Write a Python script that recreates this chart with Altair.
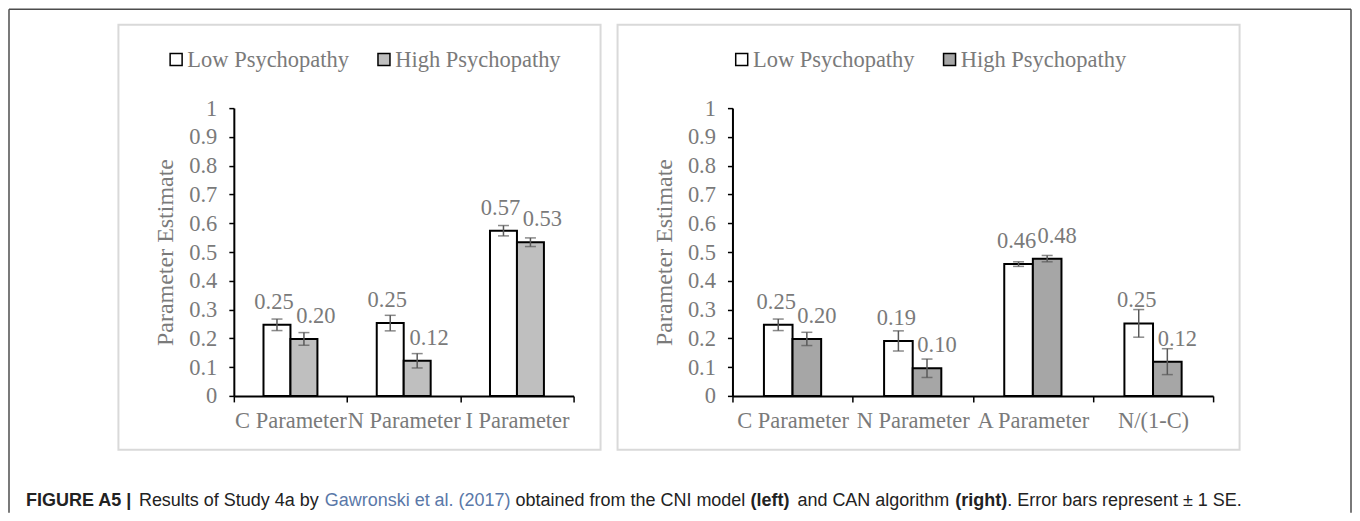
import altair as alt
import pandas as pd

# ---------------- data ----------------
SERIES = ["Low Psychopathy", "High Psychopathy"]

LEFT_CATS = ["C Parameter", "N Parameter", "I Parameter"]
LEFT_LOW = [0.247, 0.253, 0.574]
LEFT_HIGH = [0.198, 0.122, 0.534]
LEFT_LOW_SE = [0.020, 0.027, 0.018]
LEFT_HIGH_SE = [0.022, 0.025, 0.015]

RIGHT_CATS = ["C Parameter", "N Parameter", "A Parameter", "N/(1-C)"]
RIGHT_LOW = [0.247, 0.191, 0.458, 0.252]
RIGHT_HIGH = [0.198, 0.096, 0.477, 0.119]
RIGHT_LOW_SE = [0.020, 0.035, 0.008, 0.048]
RIGHT_HIGH_SE = [0.023, 0.032, 0.011, 0.045]

Y_TICKS = [0, 0.1, 0.2, 0.3, 0.4, 0.5, 0.6, 0.7, 0.8, 0.9, 1]
Y_TITLE = "Parameter Estimate"

CAPTION = [
    ("FIGURE A5 |", "bold", "#222222"),
    ("Results of Study 4a by", "normal", "#222222"),
    ("Gawronski et al. (2017)", "normal", "#5a78a8"),
    ("obtained from the CNI model", "normal", "#222222"),
    ("(left)", "bold", "#222222"),
    ("and CAN algorithm", "normal", "#222222"),
    ("(right)", "bold", "#222222"),
    (". Error bars represent \u00b1 1 SE.", "normal", "#222222"),
]
CAPTION_X = [-208, -95, 91, 282, 517, 564, 722, 774]

SERIF = "Liberation Serif"
SANS = "Liberation Sans"
GRAY = "#7a7a7a"
ERR = "#595959"
BOX = "#d9d9d9"
FRAME = "#4d4d4d"
H = 288
FS = 22.5


def make_df(cats, low, high, low_se, high_se):
    rows = []
    for c, v, s in zip(cats, low, low_se):
        rows.append({"cat": c, "series": SERIES[0], "value": v, "se": s})
    for c, v, s in zip(cats, high, high_se):
        rows.append({"cat": c, "series": SERIES[1], "value": v, "se": s})
    return pd.DataFrame(rows)


one = pd.DataFrame({"k": [0]})


def panel(cats, df, high_color, width, legend_x, box_x, box_x2, dx_low, dx_high, extra=()):
    band = width / len(cats)
    bar_w = band / 4.2
    x_enc = alt.X(
        "cat:N", sort=cats, title=None,
        scale=alt.Scale(paddingInner=0, paddingOuter=0),
        axis=alt.Axis(labelAngle=0, labelFont=SERIF, labelFontSize=FS, labelColor=GRAY,
                      domainColor="black", domainWidth=2, tickColor="black", tickWidth=1.5,
                      tickSize=6, tickBand="extent", labelPadding=8, labelOverlap=False,
                      labelLimit=400),
    )
    xo_enc = alt.XOffset("series:N", sort=SERIES,
                         scale=alt.Scale(domain=SERIES, paddingInner=0, paddingOuter=0,
                                         range=[band / 2 - bar_w, band / 2 + bar_w]))
    y_axis = alt.Axis(values=Y_TICKS, format="~g", grid=False, labelFont=SERIF,
                      labelFontSize=FS, labelColor=GRAY, labelPadding=12, labelFlush=False,
                      domainColor="black", domainWidth=2, tickColor="black", tickWidth=1.5,
                      tickSize=5, title=Y_TITLE, titleFont=SERIF, titleFontSize=24,
                      titleFontWeight="normal", titleColor=GRAY, titleX=-68, titleY=H / 2,
                      titleAngle=270, titleAlign="center", titleBaseline="middle")

    def Y(field):
        return alt.Y(field, title=Y_TITLE, scale=alt.Scale(domain=[0, 1], nice=False), axis=y_axis)

    base = alt.Chart(df).transform_calculate(
        lo="datum.value - datum.se", hi="datum.value + datum.se"
    ).encode(x=x_enc, xOffset=xo_enc)

    bars = base.mark_bar(stroke="black", strokeWidth=2).encode(
        y=Y("value:Q"),
        fill=alt.Fill("series:N",
                      scale=alt.Scale(domain=SERIES, range=["white", high_color]),
                      legend=alt.Legend(orient="none", legendX=legend_x, legendY=-60,
                                        direction="horizontal", title=None,
                                        symbolType="square", symbolSize=144,
                                        symbolStrokeColor="black", symbolStrokeWidth=1.5,
                                        labelFont=SERIF, labelFontSize=FS, labelColor=GRAY,
                                        labelOffset=0, columnPadding=23, padding=0,
                                        labelLimit=400)),
    )
    rule = base.mark_rule(color=ERR, strokeWidth=1.5).encode(y=Y("lo:Q"), y2="hi:Q")
    cap_lo = base.mark_tick(color=ERR, thickness=1.5, size=11).encode(y=Y("lo:Q"))
    cap_hi = base.mark_tick(color=ERR, thickness=1.5, size=11).encode(y=Y("hi:Q"))

    labels = []
    for s, dx in zip(SERIES, [dx_low, dx_high]):
        labels.append(
            base.transform_filter(alt.datum.series == s)
            .mark_text(font=SERIF, fontSize=FS, color=GRAY, baseline="alphabetic",
                       align="center", dy=-16, dx=dx)
            .encode(y=Y("value:Q"), text=alt.Text("value:Q", format=".2f"))
        )

    box = alt.Chart(one).mark_rect(fill="white", fillOpacity=0, stroke=BOX, strokeWidth=2).encode(
        x=alt.value(box_x), x2=alt.value(box_x2), y=alt.value(-83.5), y2=alt.value(342)
    )

    return alt.layer(box, *extra, bars, rule, cap_lo, cap_hi, *labels).properties(
        width=width, height=H
    )


# outer frame and caption (drawn in the left panel's coordinate system)
extras = [
    alt.Chart(one).mark_rule(color=FRAME, strokeWidth=1.5).encode(
        x=alt.value(-225), y=alt.value(-99), y2=alt.value(405)),
    alt.Chart(one).mark_rule(color=FRAME, strokeWidth=1.5).encode(
        x=alt.value(-225), x2=alt.value(1118), y=alt.value(-99)),
    alt.Chart(one).mark_rule(color=FRAME, strokeWidth=1.5).encode(
        x=alt.value(1118), y=alt.value(-99), y2=alt.value(405)),
]
for (txt, weight, col), cx in zip(CAPTION, CAPTION_X):
    extras.append(
        alt.Chart(one).mark_text(text=txt, font=SANS, fontSize=18, fontWeight=weight,
                                 color=col, align="left", baseline="middle")
        .encode(x=alt.value(cx), y=alt.value(393))
    )

left = panel(LEFT_CATS, make_df(LEFT_CATS, LEFT_LOW, LEFT_HIGH, LEFT_LOW_SE, LEFT_HIGH_SE),
             "#bfbfbf", 340, -69, -115.5, 367, -3, 12, extra=extras)
right = panel(RIGHT_CATS, make_df(RIGHT_CATS, RIGHT_LOW, RIGHT_HIGH, RIGHT_LOW_SE, RIGHT_HIGH_SE),
              "#a6a6a6", 481, -2, -115, 507.5, -2, 10)

chart = (
    alt.hconcat(left, right, spacing=159, bounds="flush")
    .resolve_scale(fill="independent", x="independent", y="independent", xOffset="independent")
    .properties(padding=0, background="white")
    .configure_view(strokeWidth=0)
)

chart.save("out.html", embed_options={"renderer": "svg", "actions": False})
